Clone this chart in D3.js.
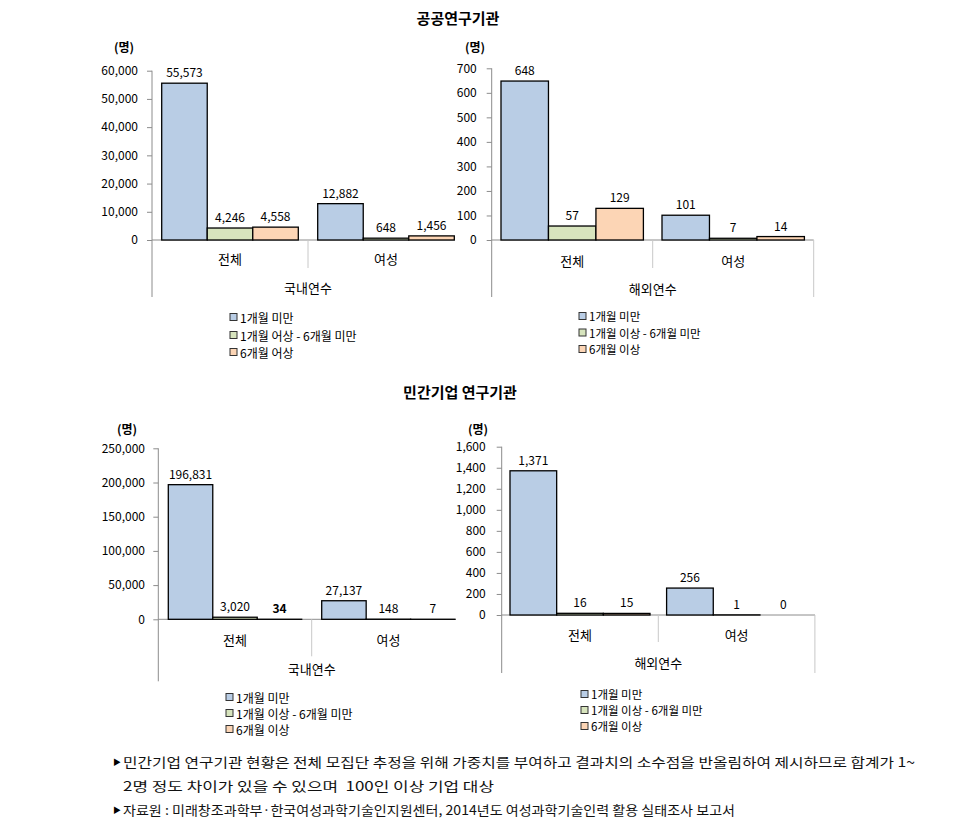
<!DOCTYPE html>
<html>
<head>
<meta charset="utf-8">
<script src="https://cdn.jsdelivr.net/npm/d3@7"></script>
<style>
  html, body { margin: 0; padding: 0; background: #ffffff; }
  svg { display: block; font-family: "Noto Sans CJK KR", "Noto Sans", sans-serif; }
</style>
</head>
<body>
<svg id="chart" width="962" height="834"></svg>
<script>
// ---------------- DATA ----------------
const groups = ["전체", "여성"];
const seriesNames = ["1개월 미만", "1개월 이상 - 6개월 미만", "6개월 이상"];
const seriesNamesPublicDomestic = ["1개월 미만", "1개월 어상 - 6개월 미만", "6개월 어상"];

const titlePublic = "공공연구기관";
const titlePrivate = "민간기업 연구기관";
const unitLabel = "(명)";
const domesticLabel = "국내연수";
const overseasLabel = "해외연수";

// values [group][series]
const publicDomestic = [[55573, 4246, 4558], [12882, 648, 1456]];
const publicOverseas = [[648, 57, 129], [101, 7, 14]];
const privateDomestic = [[196831, 3020, 34], [27137, 148, 7]];
const privateOverseas = [[1371, 16, 15], [256, 1, 0]];

const ticksPublicDomestic = [0, 10000, 20000, 30000, 40000, 50000, 60000];
const ticksPublicOverseas = [0, 100, 200, 300, 400, 500, 600, 700];
const ticksPrivateDomestic = [0, 50000, 100000, 150000, 200000, 250000];
const ticksPrivateOverseas = [0, 200, 400, 600, 800, 1000, 1200, 1400, 1600];

const footnotes = [
  "민간기업 연구기관 현황은 전체 모집단 추정을 위해 가중치를 부여하고 결과치의 소수점을 반올림하여 제시하므로 합계가 1~",
  "2명 정도 차이가 있을 수 있으며  100인 이상 기업 대상",
  "자료원 : 미래창조과학부·한국여성과학기술인지원센터, 2014년도 여성과학기술인력 활용 실태조사 보고서"
];

// ---------------- STYLE ----------------
const fills = ["#b9cde5", "#d7e4bd", "#fcd5b5"];
const axisColor = "#8c8c8c";

const svg = d3.select("#chart");
const fmt = d3.format(",");

function drawChart(cfg) {
  const g = svg.append("g");
  const y = d3.scaleLinear().domain([0, d3.max(cfg.ticks)]).range([cfg.y0, cfg.yTop]);
  const x0 = d3.scaleBand().domain(groups).range([cfg.axisX, cfg.axisX + cfg.bw * groups.length]);
  const x1 = d3.scaleBand().domain(d3.range(3)).range([cfg.pad, cfg.bw - cfg.pad]);

  // y axis ticks & labels
  const axis = d3.axisLeft(y).tickValues(cfg.ticks).tickFormat(fmt).tickSize(5).tickPadding(cfg.tickPad);
  const ag = g.append("g").attr("transform", `translate(${cfg.axisX},0)`).call(axis);
  ag.select(".domain").remove();
  ag.selectAll(".tick line").attr("stroke", axisColor);
  ag.selectAll(".tick text").attr("fill", "#000").style("font-size", "12px")
    .style("font-family", '"Noto Sans CJK KR", sans-serif');

  // y axis line (extends into category area)
  g.append("line").attr("x1", cfg.axisX).attr("x2", cfg.axisX)
    .attr("y1", cfg.yTop).attr("y2", cfg.y0 + cfg.outerDrop)
    .attr("stroke", axisColor).attr("stroke-width", 1);

  // baseline
  g.append("line").attr("x1", cfg.axisX).attr("x2", cfg.baseEnd)
    .attr("y1", cfg.y0).attr("y2", cfg.y0).attr("stroke", axisColor);

  // separator between categories
  g.append("line").attr("x1", x0(groups[1])).attr("x2", x0(groups[1]))
    .attr("y1", cfg.y0).attr("y2", cfg.y0 + cfg.sepDrop).attr("stroke", "#c8c8c8");

  if (cfg.rightEdge) {
    const xr = cfg.axisX + cfg.bw * groups.length;
    g.append("line").attr("x1", xr).attr("x2", xr)
      .attr("y1", cfg.y0).attr("y2", cfg.y0 + cfg.outerDrop).attr("stroke", "#c8c8c8");
  }

  // bars
  cfg.values.forEach((vals, gi) => {
    const gx = x0(groups[gi]);
    vals.forEach((v, si) => {
      const bx = gx + x1(si);
      g.append("rect")
        .attr("x", bx).attr("y", y(v))
        .attr("width", x1.bandwidth()).attr("height", y(0) - y(v))
        .attr("fill", fills[si]).attr("stroke", "#000").attr("stroke-width", 1.3);
      g.append("text")
        .attr("x", bx + x1.bandwidth() / 2).attr("y", y(v) - 6)
        .attr("text-anchor", "middle").style("font-size", "12px")
        .style("font-weight", cfg.boldLabel && cfg.boldLabel(gi, si) ? "bold" : "normal")
        .text(fmt(v));
    });
    // category label
    g.append("text").attr("x", gx + cfg.bw / 2).attr("y", cfg.catY)
      .attr("text-anchor", "middle").attr("dominant-baseline", "central")
      .style("font-size", "13px").text(groups[gi]);
  });

  // outer group label
  g.append("text").attr("x", cfg.axisX + cfg.bw).attr("y", cfg.outerY)
    .attr("text-anchor", "middle").attr("dominant-baseline", "central")
    .style("font-size", "13px").text(cfg.outerLabel);

  // unit label
  g.append("text").attr("x", cfg.unitX).attr("y", cfg.unitY)
    .attr("text-anchor", "middle").attr("dominant-baseline", "central")
    .style("font-size", "12px").style("font-weight", "bold").text(unitLabel);

  // legend
  cfg.names.forEach((n, i) => {
    const ly = cfg.legY[i];
    g.append("rect").attr("x", cfg.legX).attr("y", ly - 3.5).attr("width", 7).attr("height", 7)
      .attr("fill", fills[i]).attr("stroke", "#333").attr("stroke-width", 1);
    g.append("text").attr("x", cfg.legX + 10).attr("y", ly)
      .attr("dominant-baseline", "central").style("font-size", cfg.legFont + "px").text(n);
  });
}

// titles
svg.append("text").attr("x", 458).attr("y", 17).attr("text-anchor", "middle")
  .attr("dominant-baseline", "central").style("font-size", "15px").style("font-weight", "bold").text(titlePublic);
svg.append("text").attr("x", 460).attr("y", 391).attr("text-anchor", "middle")
  .attr("dominant-baseline", "central").style("font-size", "15px").style("font-weight", "bold").text(titlePrivate);

drawChart({
  values: publicDomestic, ticks: ticksPublicDomestic, names: seriesNamesPublicDomestic,
  axisX: 152, y0: 240, yTop: 70.7, bw: 156, pad: 9.7, tickPad: 9,
  baseEnd: 455, sepDrop: 28, outerDrop: 57, rightEdge: false,
  catY: 258, outerY: 287, outerLabel: domesticLabel,
  unitX: 124, unitY: 46, legX: 230, legY: [317, 335, 352], legFont: 12
});
drawChart({
  values: publicOverseas, ticks: ticksPublicOverseas, names: seriesNames,
  axisX: 491.7, y0: 240, yTop: 68.3, bw: 161, pad: 9.3, tickPad: 10,
  baseEnd: 813.7, sepDrop: 28, outerDrop: 57, rightEdge: true,
  catY: 260, outerY: 288, outerLabel: overseasLabel,
  unitX: 475, unitY: 46, legX: 579, legY: [316, 332.5, 349], legFont: 11.5
});
drawChart({
  values: privateDomestic, ticks: ticksPrivateDomestic, names: seriesNames,
  axisX: 158.3, y0: 619.3, yTop: 448.3, bw: 153.4, pad: 10, tickPad: 8.3,
  baseEnd: 455, sepDrop: 37, outerDrop: 62, rightEdge: false,
  catY: 639, outerY: 668, outerLabel: domesticLabel,
  unitX: 127, unitY: 428, legX: 226, legY: [697, 713, 729], legFont: 12,
  boldLabel: (gi, si) => gi === 0 && si === 2
});
drawChart({
  values: privateOverseas, ticks: ticksPrivateOverseas, names: seriesNames,
  axisX: 501.7, y0: 615, yTop: 446.7, bw: 156.6, pad: 8.3, tickPad: 11,
  baseEnd: 815, sepDrop: 27, outerDrop: 58, rightEdge: true,
  catY: 634, outerY: 662, outerLabel: overseasLabel,
  unitX: 478, unitY: 428, legX: 581, legY: [694, 710, 726], legFont: 11.5
});

// footnotes
const fnY = [761, 785, 809];
const fnEnd = [915, 494, 735];
[0, 2].forEach(i => {
  svg.append("text").attr("x", 113).attr("y", fnY[i]).attr("dominant-baseline", "central")
    .style("font-size", "8px").text("▶");
});
footnotes.forEach((t, i) => {
  svg.append("text").attr("x", 123).attr("y", fnY[i]).attr("dominant-baseline", "central")
    .attr("xml:space", "preserve").style("white-space", "pre")
    .attr("textLength", fnEnd[i] - 123).attr("lengthAdjust", "spacingAndGlyphs")
    .style("font-size", "13px").style("fill", "#111").text(t);
});
</script>
</body>
</html>
